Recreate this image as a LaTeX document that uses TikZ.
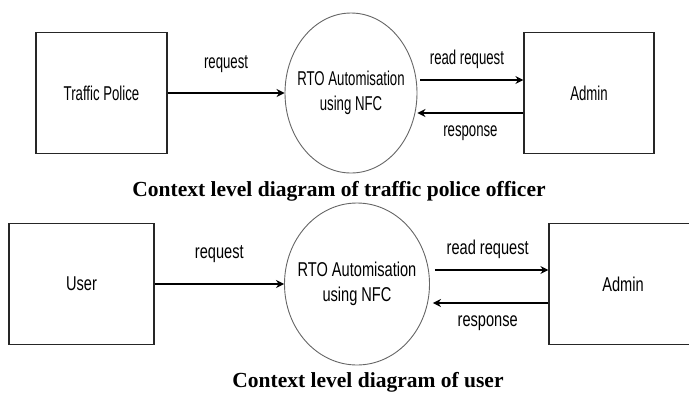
\documentclass[tikz,border=0pt]{standalone}
\usepackage{fontspec}
\setmainfont{Liberation Serif}
\newfontfamily\topfont[FakeStretch=0.66]{Liberation Sans}
\newfontfamily\botfont[FakeStretch=0.73]{Liberation Sans}
\usepackage{tikz}
\usetikzlibrary{arrows.meta,shapes.geometric}
\newcommand{\boxwidth}{1.2pt}
\newcommand{\flowwidth}{1.3pt}
\newcommand{\labelsize}{\fontsize{20}{25}\selectfont}

\begin{document}
\begin{tikzpicture}[x=1pt,y=-1pt,
    entity/.style={draw=black!85,line width=\boxwidth,minimum height=121pt,inner sep=0pt},
    process/.style={ellipse,draw=black!60,line width=0.9pt,inner xsep=-30pt,inner ysep=0pt,align=center},
    flow/.style={draw=black,line width=\flowwidth,-{Stealth[length=8pt,width=8pt]}},
    lbl/.style={inner sep=0pt},
    caption/.style={font=\bfseries\fontsize{21.5}{24}\selectfont,anchor=base,inner sep=0pt}]
\useasboundingbox (0,0) rectangle (689,392);
\clip (0,0) rectangle (689,392);
    %Traffic police
    \begin{scope}[font=\topfont\labelsize]
        \node[entity,minimum width=131pt] (tp) at (101.5,93) {Traffic Police};
        \node[process,minimum width=132pt,minimum height=160pt] (rto1) at (351,93) {RTO Automisation\\using NFC};
        \node[entity,minimum width=130pt] (adm1) at (589,93) {Admin};

        \draw[flow] (tp) -- node[lbl,above=20pt] {request} (rto1);
        \draw[flow] ([xshift=3pt,yshift=13pt]rto1.east) -- node[lbl,above=11pt,xshift=-5pt] {read request} ([yshift=13pt]adm1.west);
        \draw[flow] ([yshift=-20pt]adm1.west) -- node[lbl,below=12pt] {response} ([yshift=-20pt]rto1.east);
    \end{scope}
    \node[caption] (cap1) at (339,196) {Context level diagram of traffic police officer};

    %User
    \begin{scope}[font=\botfont\labelsize]
        \node[entity,minimum width=145pt] (usr) at (81.5,284) {User};
        \node[process,minimum width=145pt,minimum height=162pt] (rto2) at (357,284) {RTO Automisation\\using NFC};
        \node[entity,minimum width=148pt] (adm2) at (623,284) {Admin};

        \draw[flow] (usr) -- node[lbl,above=21pt] {request} (rto2);
        \draw[flow] ([xshift=5pt,yshift=14pt]rto2.east) -- node[lbl,above=11pt,xshift=-4pt] {read request} ([yshift=14pt]adm2.west);
        \draw[flow] ([yshift=-19pt]adm2.west) -- node[lbl,below=12pt,xshift=-3pt] {response} ([xshift=3pt,yshift=-19pt]rto2.east);
    \end{scope}
    \node[caption] (cap2) at (368,387) {Context level diagram of user};
\end{tikzpicture}
\end{document}
